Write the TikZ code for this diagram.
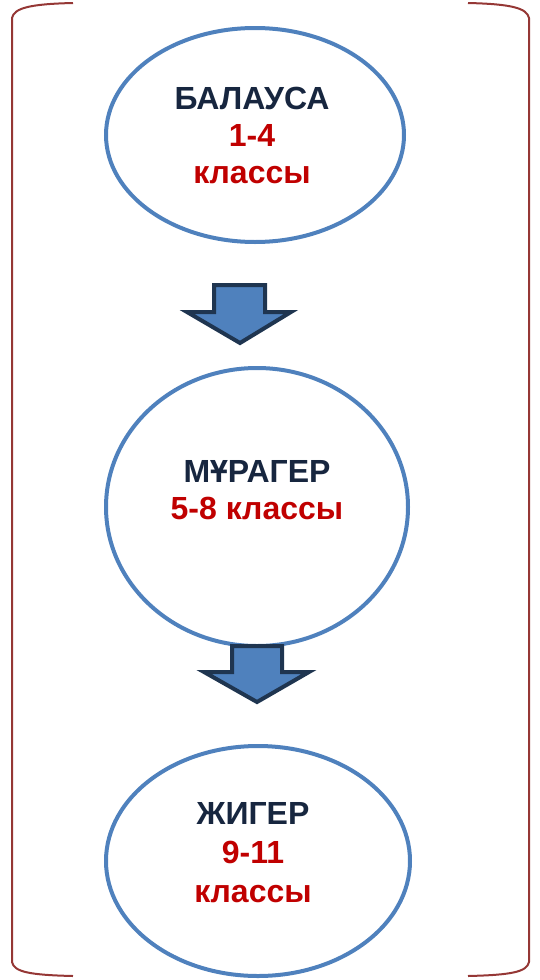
\documentclass[tikz,border=0pt]{standalone}
\usepackage{fontspec}
\setmainfont{Liberation Sans}
\definecolor{ringblue}{HTML}{4F81BD}
\definecolor{navy}{HTML}{17263F}
\definecolor{darkred}{HTML}{C00000}
\definecolor{brk}{HTML}{953735}
\definecolor{arrline}{HTML}{1F3550}
\begin{document}
\begin{tikzpicture}[x=1pt,y=-1pt,
  lbl/.style={align=center,font=\fontsize{32}{37}\selectfont\bfseries},
  arr/.style={draw=arrline,fill=ringblue,line width=4pt,line join=miter}]
\useasboundingbox (0,0) rectangle (539,980);
% bracket
\draw[brk,line width=2pt] (73,3) .. controls (30,4) and (14,8) .. (12,18) -- (12,962) .. controls (14,972) and (30,975) .. (73,976);
\draw[brk,line width=2pt] (468,3) .. controls (511,4) and (527,8) .. (529,18) -- (529,962) .. controls (527,972) and (511,975) .. (468,976);
% ellipses
\draw[ringblue,line width=4pt] (255,135) ellipse [x radius=149, y radius=107];
\draw[ringblue,line width=4pt] (257,507) ellipse [x radius=151, y radius=139];
\draw[ringblue,line width=4pt] (258,861) ellipse [x radius=152, y radius=115];
% arrows
\draw[arr] (214,285) -- (265,285) -- (265,312) -- (291,312) -- (240,343) -- (187,312) -- (214,312) -- cycle;
\draw[arr] (232,646) -- (282,646) -- (282,672) -- (309,672) -- (257,702) -- (204,672) -- (232,672) -- cycle;
% labels
\node[lbl] (t1) at (252,135) {\textcolor{navy}{БАЛАУСА}\\\textcolor{darkred}{1-4}\\\textcolor{darkred}{классы}};
\node[lbl] (t2) at (257,490) {\textcolor{navy}{МҰРАГЕР}\\\textcolor{darkred}{5-8 классы}};
\node[lbl,font=\fontsize{32}{39}\selectfont\bfseries] (t3) at (253,853) {\textcolor{navy}{ЖИГЕР}\\\textcolor{darkred}{9-11}\\\textcolor{darkred}{классы}};
\end{tikzpicture}
\end{document}
